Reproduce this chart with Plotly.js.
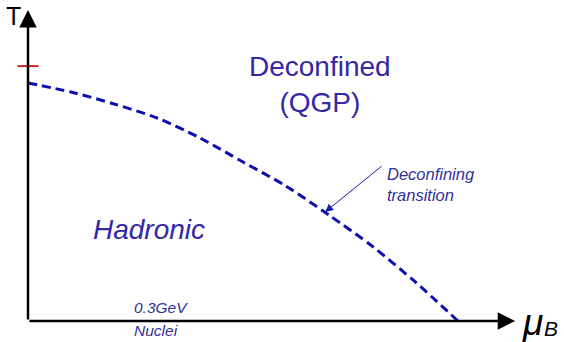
<!DOCTYPE html>
<html>
<head>
<meta charset="utf-8">
<script src="https://cdn.plot.ly/plotly-3.0.1.min.js"></script>
<style>
  html, body { margin: 0; padding: 0; background: #fff; }
  #chart { width: 564px; height: 342px; }
</style>
</head>
<body>
<div id="chart"></div>
<script>
// Schematic QCD phase diagram: temperature T versus baryon chemical potential mu_B
// (arbitrary units, both normalised so the crossover line runs from (0,1) to (1,0)).
const muB = [0, 0.1, 0.2, 0.3, 0.4, 0.5, 0.6, 0.7, 0.8, 0.9, 1.0];
const Tc  = [1.0, 0.962, 0.912, 0.853, 0.769, 0.668, 0.567, 0.445, 0.315, 0.165, 0.0];

// Mark on the T axis just above T(mu_B = 0)
const tickMu = [0];
const tickT = [1.071];

// Axis extents (arrow tips)
const muMax = 1.133;
const tMax = 1.307;

// Point on the line pointed to by the "Deconfining transition" label
const labelMu = 0.691;
const labelT = 0.458;

const textFont = 'Liberation Sans, Arial, sans-serif';
const indigo = '#3527a6';
const labelBlue = '#32309a';

const traces = [
  {
    x: muB, y: Tc,
    type: 'scatter', mode: 'lines',
    line: { color: '#0a0fae', width: 3, dash: '9px,5px', shape: 'spline', smoothing: 0.8 },
    hoverinfo: 'skip'
  },
  {
    x: tickMu, y: tickT,
    type: 'scatter', mode: 'markers',
    marker: { symbol: 'line-ew', size: 15, line: { color: '#c8242a', width: 2 } },
    cliponaxis: false,
    hoverinfo: 'skip'
  }
];

const annotations = [
  // T axis with arrowhead
  { x: 0, y: tMax, ax: 0, ay: 0, xref: 'x', yref: 'y', axref: 'x', ayref: 'y',
    text: '', showarrow: true, arrowhead: 2, arrowsize: 1.4, arrowwidth: 2.5, arrowcolor: '#000' },
  // mu_B axis with arrowhead
  { x: muMax, y: 0, ax: 0, ay: 0, xref: 'x', yref: 'y', axref: 'x', ayref: 'y',
    text: '', showarrow: true, arrowhead: 2, arrowsize: 1.4, arrowwidth: 2.5, arrowcolor: '#000' },
  // axis names
  { xref: 'paper', yref: 'paper', x: 13.5 / 564, y: 1 - 16 / 342, xanchor: 'center', yanchor: 'middle',
    text: 'T', showarrow: false, font: { family: textFont, size: 25, color: '#000' } },
  { xref: 'paper', yref: 'paper', x: 520 / 564, y: 1 - 322 / 342, xanchor: 'left', yanchor: 'middle',
    text: '<i>μ</i>', showarrow: false, font: { family: textFont, size: 37, color: '#000' } },
  { xref: 'paper', yref: 'paper', x: 542 / 564, y: 1 - 328 / 342, xanchor: 'left', yanchor: 'middle',
    text: '<i>B</i>', showarrow: false, font: { family: textFont, size: 21, color: '#000' } },
  // phase labels
  { xref: 'paper', yref: 'paper', x: 320 / 564, y: 1 - 84 / 342, xanchor: 'center', yanchor: 'middle',
    text: 'Deconfined<br>(QGP)', showarrow: false, font: { family: textFont, size: 28, color: indigo } },
  { xref: 'paper', yref: 'paper', x: 149 / 564, y: 1 - 229 / 342, xanchor: 'center', yanchor: 'middle',
    text: '<i>Hadronic</i>', showarrow: false, font: { family: textFont, size: 28, color: indigo } },
  // transition label with pointer
  { x: labelMu, y: labelT, xref: 'x', yref: 'y', ax: 58, ay: -47,
    text: '', showarrow: true, arrowhead: 2, arrowsize: 1.6, arrowwidth: 1, arrowcolor: '#1a1aa8' },
  { xref: 'paper', yref: 'paper', x: 385 / 564, y: 1 - 184 / 342, xanchor: 'left', yanchor: 'middle', align: 'left',
    text: '<i>Deconfining<br>transition</i>', showarrow: false, font: { family: textFont, size: 16.5, color: labelBlue } },
  // nuclear matter marker text
  { xref: 'paper', yref: 'paper', x: 132 / 564, y: 1 - 307 / 342, xanchor: 'left', yanchor: 'middle',
    text: '<i>0.3GeV</i>', showarrow: false, font: { family: textFont, size: 15.5, color: labelBlue } },
  { xref: 'paper', yref: 'paper', x: 132 / 564, y: 1 - 330 / 342, xanchor: 'left', yanchor: 'middle',
    text: '<i>Nuclei</i>', showarrow: false, font: { family: textFont, size: 15.5, color: labelBlue } }
];

const layout = {
  width: 564, height: 342,
  margin: { l: 0, r: 0, t: 0, b: 0, pad: 0 },
  paper_bgcolor: '#fff', plot_bgcolor: '#fff',
  showlegend: false,
  xaxis: { range: [-28 / 430, 536 / 430], visible: false, fixedrange: true },
  yaxis: { range: [-21 / 238, 321 / 238], visible: false, fixedrange: true },
  annotations: annotations
};

Plotly.newPlot('chart', traces, layout, { staticPlot: true, displayModeBar: false });
</script>
</body>
</html>
